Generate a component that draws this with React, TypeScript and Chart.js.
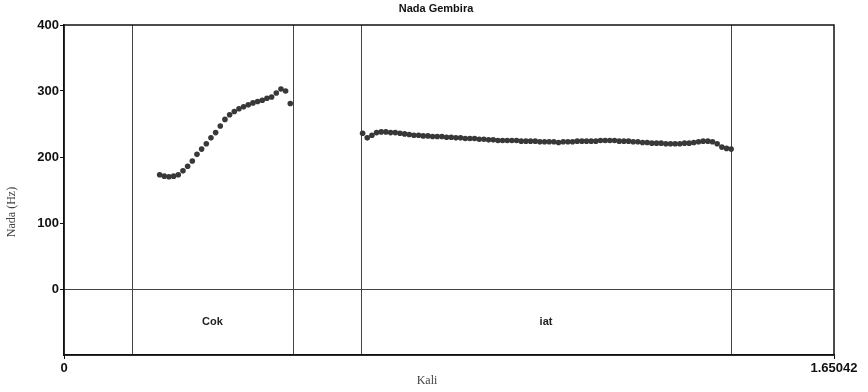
import React, { useEffect, useRef } from "react";
import { Chart, registerables } from "chart.js";

Chart.register(...registerables);

// Pitch track (Hz), frames every 0.01 s
const cokStart = 0.205;
const cokPitch = [173, 171, 170, 171, 173, 179, 186, 194, 204, 212, 220, 229, 237, 247, 257, 264, 269, 273, 276, 279, 282, 284, 286, 289, 291, 297, 303, 300, 281];
const iatStart = 0.64;
const iatPitch = [236, 229, 233, 237, 238, 238, 237, 237, 236, 235, 234, 233, 233, 232, 232, 231, 231, 231, 230, 230,
  229, 229, 228, 228, 228, 227, 227, 226, 226, 225, 225, 225, 225, 225, 224, 224, 224, 224, 223, 223,
  223, 223, 222, 223, 223, 223, 224, 224, 224, 224, 224, 225, 225, 225, 225, 224, 224, 224, 223, 223,
  222, 222, 221, 221, 221, 220, 220, 220, 220, 221, 221, 222, 223, 224, 224, 223, 220, 215, 213, 212];
const frameStep = 0.01;

// Text tier
const boundaries = [0.1458, 0.4908, 0.6366, 1.4296];
const tierLabels = ["Cok", "iat"];
const tierStarts = [0.1458, 0.6366];
const tierEnds = [0.4908, 1.4296];

const xTicks = [0, 1.65042];
const yTicks = [0, 100, 200, 300, 400];
const xMax = 1.65042;
const yMin = -100;
const yMax = 400;

const toPoints = (start: number, vals: number[]) =>
  vals.map((v, i) => ({ x: +(start + i * frameStep).toFixed(3), y: v }));

export default function App() {
  const ref = useRef<HTMLCanvasElement | null>(null);
  useEffect(() => {
    if (!ref.current) return;
    const overlay = {
      id: "overlay",
      beforeDatasetsDraw(chart: any) {
        const { ctx, chartArea: a, scales } = chart;
        const x = scales.x, y = scales.y;
        ctx.save();
        ctx.strokeStyle = "#444";
        ctx.lineWidth = 1;
        boundaries.forEach((b) => {
          const px = Math.round(x.getPixelForValue(b)) + 0.5;
          ctx.beginPath();
          ctx.moveTo(px, a.top);
          ctx.lineTo(px, a.bottom);
          ctx.stroke();
        });
        const y0 = Math.round(y.getPixelForValue(0)) + 0.5;
        ctx.beginPath();
        ctx.moveTo(a.left, y0);
        ctx.lineTo(a.right, y0);
        ctx.stroke();
        ctx.fillStyle = "#222";
        ctx.font = "bold 11px 'Liberation Sans', Arial, sans-serif";
        ctx.textAlign = "center";
        ctx.textBaseline = "middle";
        tierLabels.forEach((t, i) => {
          const cx = (x.getPixelForValue(tierStarts[i]) + x.getPixelForValue(tierEnds[i])) / 2;
          ctx.fillText(t, cx, y.getPixelForValue(-50));
        });
        ctx.restore();
      },
      afterDraw(chart: any) {
        const { ctx, chartArea: a } = chart;
        ctx.save();
        ctx.strokeStyle = "#111";
        ctx.lineWidth = 1.5;
        ctx.strokeRect(a.left, a.top, a.right - a.left, a.bottom - a.top);
        ctx.fillStyle = "#111";
        ctx.textAlign = "center";
        ctx.textBaseline = "middle";
        ctx.font = "bold 11px 'Liberation Sans', Arial, sans-serif";
        ctx.fillText("Nada Gembira", 436, 9);
        ctx.fillStyle = "#444";
        ctx.font = "12px 'Liberation Serif', 'Times New Roman', serif";
        ctx.fillText("Kali", 427, 381);
        ctx.translate(12, 212);
        ctx.rotate(-Math.PI / 2);
        ctx.fillText("Nada (Hz)", 0, 0);
        ctx.restore();
      },
    };
    const chart = new Chart(ref.current, {
      type: "scatter",
      data: {
        datasets: [
          { label: "Cok", data: toPoints(cokStart, cokPitch), pointRadius: 2.8, pointBackgroundColor: "#383838", pointBorderWidth: 0, showLine: false },
          { label: "iat", data: toPoints(iatStart, iatPitch), pointRadius: 2.8, pointBackgroundColor: "#383838", pointBorderWidth: 0, showLine: false },
        ],
      },
      options: {
        animation: false,
        responsive: false,
        layout: { padding: { top: 25, right: 34, left: 0, bottom: 0 } },
        plugins: { legend: { display: false }, tooltip: { enabled: false }, title: { display: false } },
        scales: {
          x: {
            type: "linear",
            min: 0,
            max: xMax,
            afterBuildTicks: (s: any) => { s.ticks = xTicks.map((v) => ({ value: v })); },
            afterFit: (s: any) => { s.height = 37; },
            grid: { drawOnChartArea: false, tickLength: 4, color: "#111" },
            border: { color: "#111", width: 1.5 },
            ticks: {
              color: "#111",
              font: { family: "'Liberation Sans', Arial, sans-serif", size: 13, weight: "bold" },
              padding: 2,
              maxRotation: 0,
              autoSkip: false,
              callback: (v: any) => (v === 0 ? "0" : String(v)),
            },
          },
          y: {
            type: "linear",
            min: yMin,
            max: yMax,
            afterBuildTicks: (s: any) => { s.ticks = yTicks.map((v) => ({ value: v })); },
            afterFit: (s: any) => { s.width = 64; },
            grid: { drawOnChartArea: false, tickLength: 4, color: "#111" },
            border: { color: "#111", width: 1.5 },
            ticks: {
              color: "#111",
              font: { family: "'Liberation Sans', Arial, sans-serif", size: 13, weight: "bold" },
              padding: 1,
              autoSkip: false,
            },
          },
        },
      },
      plugins: [overlay],
    } as any);
    return () => chart.destroy();
  }, []);
  return (
    <div style={{ position: "fixed", left: 0, top: 0, width: 868, height: 392, background: "#fff" }}>
      <canvas ref={ref} width={868} height={392} style={{ width: 868, height: 392 }} />
    </div>
  );
}
